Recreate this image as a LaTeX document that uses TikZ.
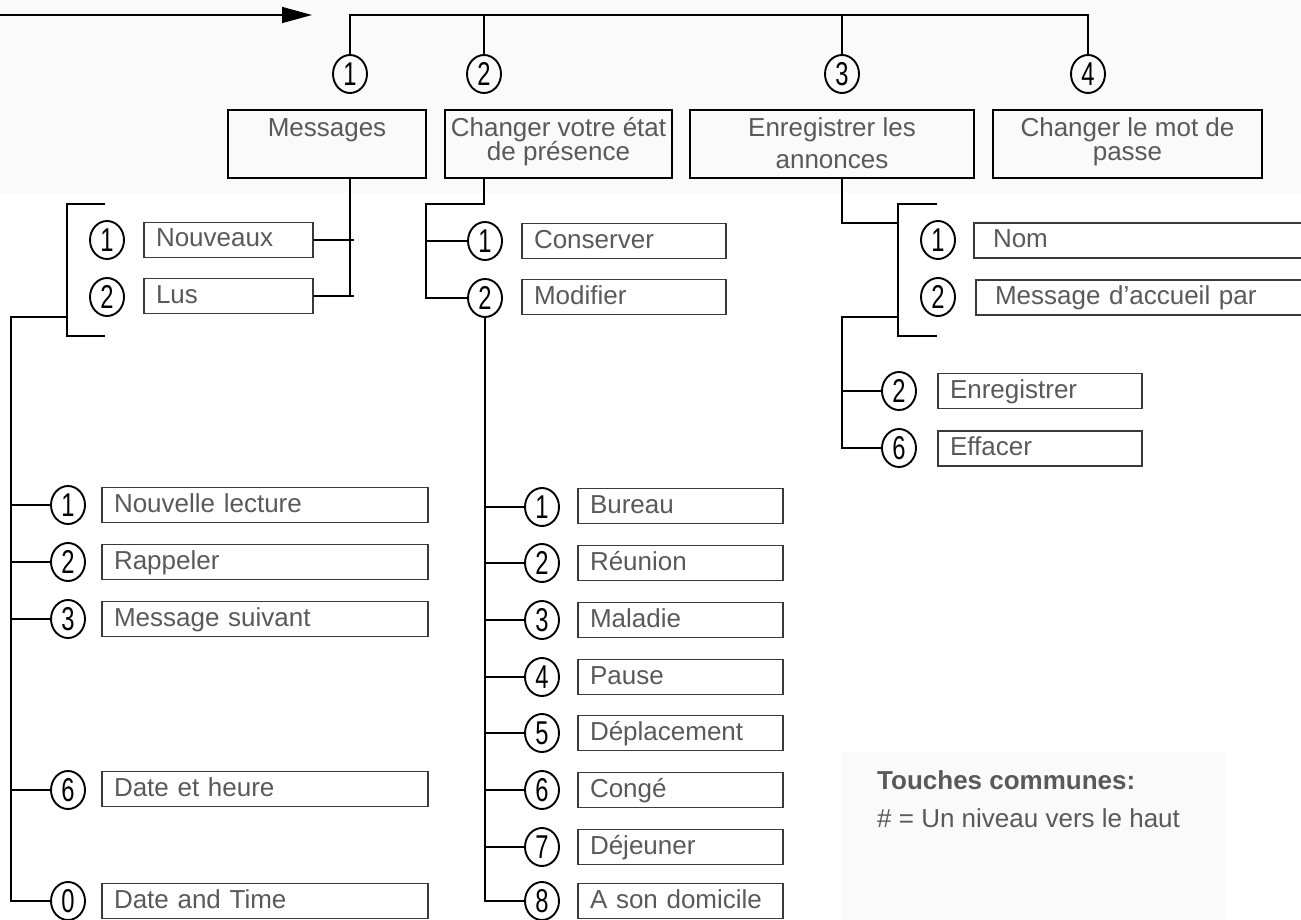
\documentclass[tikz,border=0pt]{standalone}
\usepackage{graphicx}
\usepackage{fontspec}
\setmainfont{Liberation Sans}
\usetikzlibrary{arrows.meta,shapes.geometric,calc}
\definecolor{txt}{HTML}{595959}
\definecolor{bgg}{HTML}{FAFAFA}
\definecolor{bx}{HTML}{3A3A3A}
\newcommand\cnum[1]{\scalebox{0.72}[1]{#1}}
\begin{document}
\begin{tikzpicture}[x=1pt,y=-1pt,
  ln/.style={draw=black,line width=1.5pt},
  topbox/.style={draw=black,line width=2.8pt,minimum height=68pt,inner sep=0pt},
  toptext/.style={text=txt,font=\fontsize{26}{27}\selectfont,anchor=base,inner sep=0pt},
  item/.style={draw=bx,line width=1.3pt,minimum height=35pt,inner xsep=12pt,inner ysep=0pt,
    text height=19pt,text depth=5pt,align=left,text=txt,font=\fontsize{26}{28}\selectfont,text width=#1},
  wide/.style={item=#1,inner xsep=19pt},
  circ/.style={draw=black,ellipse,line width=1.9pt,minimum width=34pt,minimum height=38pt,
    inner sep=0pt,font=\fontsize{33}{33}\selectfont}]

% backgrounds
\fill[bgg] (0,0) rectangle (1301,193);
\fill[bgg] (842,752) rectangle (1225,920);
\useasboundingbox (0,0) rectangle (1301,920);

% entry arrow
\coordinate (in) at (0,15);
\coordinate (tip) at (312,15);
\draw[ln,-{Triangle[length=30pt,width=16pt]}] (in) -- (tip);

% top level
\coordinate (bus) at (0,15);
\node[circ] (t1) at (350,74) {\cnum{1}};
\node[circ] (t2) at (484,74) {\cnum{2}};
\node[circ] (t3) at (842,74) {\cnum{3}};
\node[circ] (t4) at (1088,74) {\cnum{4}};
\draw[ln] (t1.north) -- (t1.north |- bus) -- (t4.north |- bus) -- (t4.north);
\draw[ln] (t2.north) -- (t2.north |- bus);
\draw[ln] (t3.north) -- (t3.north |- bus);

\node[topbox,minimum width=198pt] (b1) at (327,144) {};
\node[topbox,minimum width=227pt] (b2) at (558.5,144) {};
\node[topbox,minimum width=284pt] (b3) at (832,144) {};
\node[topbox,minimum width=269pt] (b4) at (1127.5,144) {};
\node[toptext] (b1a) at (327,137) {Messages};
\node[toptext] (b2a) at (558.5,137) {Changer votre état};
\node[toptext] (b2b) at (558.5,161) {de présence};
\node[toptext] (b3a) at (832,137) {Enregistrer les};
\node[toptext] (b3b) at (832,169) {annonces};
\node[toptext] (b4a) at (1127.5,137) {Changer le mot de};
\node[toptext] (b4b) at (1127.5,161) {passe};

% Messages branch
\node[circ] (n1c) at (107,240) {\cnum{1}};
\node[circ] (n2c) at (107,297) {\cnum{2}};
\node[item=145pt] (nouv) at (228.5,240) {Nouveaux};
\node[item=145pt] (lus) at (228.5,296) {Lus};
\coordinate (mv) at (350,0);
\draw[ln] (mv |- b1.south) -- (mv |- lus.east);
\draw[ln] (nouv.east) -- ++(40,0);
\draw[ln] (lus.east) -- ++(40,0);
\coordinate (brT) at (105,204);
\coordinate (brB) at (105,336);
\coordinate (brX) at (67,317);
\draw[ln] (brT) -- (67,204) -- (67,336) -- (brB);

\node[circ] (l1c) at (68,505) {\cnum{1}};
\node[circ] (l2c) at (68,562) {\cnum{2}};
\node[circ] (l3c) at (68,619) {\cnum{3}};
\node[circ] (l6c) at (68,790) {\cnum{6}};
\node[circ] (l0c) at (68,901) {\cnum{0}};
\node[item=302pt] (l1) at (265,505) {Nouvelle lecture};
\node[item=302pt] (l2) at (265,562) {Rappeler};
\node[item=302pt] (l3) at (265,619) {Message suivant};
\node[item=302pt] (l6) at (265,789) {Date et heure};
\node[item=302pt] (l0) at (265,901) {Date and Time};
\coordinate (lv) at (11,0);
\draw[ln] (brX) -- (lv |- brX) -- (lv |- l0c) -- (l0c.west);
\foreach \n in {l1c,l2c,l3c,l6c} \draw[ln] (lv |- \n) -- (\n.west);

% Presence branch
\node[circ] (c1c) at (485,241) {\cnum{1}};
\node[circ] (c2c) at (485,298) {\cnum{2}};
\node[item=180pt] (cons) at (624,241) {Conserver};
\node[item=180pt] (modi) at (624,297) {Modifier};
\coordinate (pv) at (426,204);
\draw[ln] (t2 |- b2.south) -- (t2 |- pv) -- (pv) -- (pv |- c2c) -- (c2c.west);
\draw[ln] (pv |- c1c) -- (c1c.west);

\node[circ] (m1c) at (542,507) {\cnum{1}};
\node[circ] (m2c) at (542,563) {\cnum{2}};
\node[circ] (m3c) at (542,620) {\cnum{3}};
\node[circ] (m4c) at (542,677) {\cnum{4}};
\node[circ] (m5c) at (542,733) {\cnum{5}};
\node[circ] (m6c) at (542,790) {\cnum{6}};
\node[circ] (m7c) at (542,847) {\cnum{7}};
\node[circ] (m8c) at (542,901) {\cnum{8}};
\node[item=181pt] (m1) at (680.5,506) {Bureau};
\node[item=181pt] (m2) at (680.5,563) {Réunion};
\node[item=181pt] (m3) at (680.5,620) {Maladie};
\node[item=181pt] (m4) at (680.5,677) {Pause};
\node[item=181pt] (m5) at (680.5,733) {Déplacement};
\node[item=181pt] (m6) at (680.5,790) {Congé};
\node[item=181pt] (m7) at (680.5,847) {Déjeuner};
\node[item=181pt] (m8) at (680.5,901) {A son domicile};
\draw[ln] (c2c.south) -- (c2c.south |- m8c) -- (m8c.west);
\foreach \n in {m1c,m2c,m3c,m4c,m5c,m6c,m7c} \draw[ln] (c2c.south |- \n) -- (\n.west);

% Announcements branch
\coordinate (ah) at (898,223);
\draw[ln] (t3 |- b3.south) -- (t3 |- ah) -- (ah);
\coordinate (arT) at (937,204);
\coordinate (arB) at (937,336);
\coordinate (arX) at (898,317);
\draw[ln] (arT) -- (898,204) -- (898,336) -- (arB);
\node[circ] (r1c) at (938,240) {\cnum{1}};
\node[circ] (r2c) at (938,297) {\cnum{2}};
\node[wide=362pt] (nom) at (1174,240.5) {Nom};
\node[wide=362pt] (acc) at (1176,297.5) {Message d’accueil par};

\node[circ] (e2c) at (899,391) {\cnum{2}};
\node[circ] (e6c) at (899,448) {\cnum{6}};
\node[item=180pt] (enr) at (1040,391) {Enregistrer};
\node[item=180pt] (eff) at (1040,448.5) {Effacer};
\coordinate (av) at (842,0);
\draw[ln] (arX) -- (av |- arX) -- (av |- e6c) -- (e6c.west);
\draw[ln] (av |- e2c) -- (e2c.west);

% common keys
\node[anchor=base west,inner sep=0pt,text=txt,font=\fontsize{26}{28}\selectfont\bfseries] (tc) at (877,789) {Touches communes:};
\node[anchor=base west,inner sep=0pt,text=txt,font=\fontsize{26}{28}\selectfont] (tn) at (877,827) {\# = Un niveau vers le haut};
\end{tikzpicture}
\end{document}
